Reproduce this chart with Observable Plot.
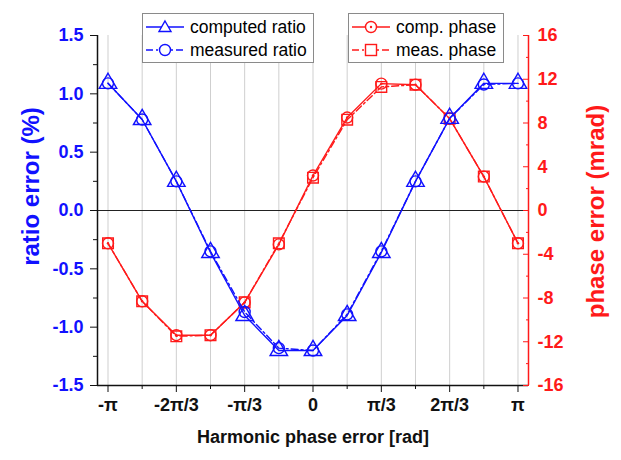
<!DOCTYPE html>
<html>
<head>
<meta charset="utf-8">
<script src="https://cdn.jsdelivr.net/npm/d3@7"></script>
<script src="https://cdn.jsdelivr.net/npm/@observablehq/plot@0.6"></script>
<style>
  body { margin: 0; background: #fff; font-family: "Liberation Sans", Arial, sans-serif; }
  #wrap { position: relative; width: 621px; height: 460px; }
  .legend { position: absolute; background: #fff; border: 1px solid #8a8a8a; box-sizing: border-box; }
  .row { position: absolute; left: 0; height: 22px; display: flex; align-items: center; font-size: 17.5px; color: #000; white-space: nowrap; }
  .row svg { margin-right: 5px; }
</style>
</head>
<body>
<div id="wrap"></div>
<script>
// Harmonic phase error, in units of π/6
const steps = [-6, -5, -4, -3, -2, -1, 0, 1, 2, 3, 4, 5, 6];
// ratio error (%)
const computedRatio = [1.09, 0.78, 0.25, -0.36, -0.90, -1.20, -1.20, -0.90, -0.36, 0.25, 0.79, 1.09, 1.09];
const measuredRatio = [1.09, 0.78, 0.25, -0.35, -0.87, -1.18, -1.20, -0.89, -0.35, 0.25, 0.79, 1.08, 1.09];
// phase error (mrad)
const compPhase = [-3.0, -8.3, -11.4, -11.4, -8.4, -3.1, 3.2, 8.5, 11.6, 11.5, 8.4, 3.1, -3.0];
const measPhase = [-3.0, -8.3, -11.5, -11.4, -8.4, -3.0, 3.0, 8.3, 11.3, 11.5, 8.4, 3.1, -3.0];
// ticks
const xTickSteps = [-6, -4, -2, 0, 2, 4, 6];
const xMinorSteps = [-5, -3, -1, 1, 3, 5];
const xTickLabels = ["-π", "-2π/3", "-π/3", "0", "π/3", "2π/3", "π"];
const ratioTicks = [-1.5, -1.0, -0.5, 0.0, 0.5, 1.0, 1.5];
const ratioMinor = [-1.25, -0.75, -0.25, 0.25, 0.75, 1.25];
const phaseTicks = [-16, -12, -8, -4, 0, 4, 8, 12, 16];
const phaseMinor = [-14, -10, -6, -2, 2, 6, 10, 14];

const BLUE = "#1111ff";
const RED = "#ff1a1a";
const rad = s => s * Math.PI / 6;
const k = 1.5 / 16; // phase (mrad) -> ratio-axis units
const pad = 0.161;
const xMin = -Math.PI - pad, xMax = Math.PI + pad;

const rows = steps.map((s, i) => ({
  x: rad(s),
  cr: computedRatio[i], mr: measuredRatio[i],
  cp: compPhase[i] * k, mp: measPhase[i] * k
}));

const font = "Liberation Sans, Arial, sans-serif";

const chart = Plot.plot({
  width: 621,
  height: 460,
  marginLeft: 97,
  marginRight: 93,
  marginTop: 35,
  marginBottom: 75,
  style: { fontFamily: font, background: "transparent", overflow: "visible" },
  x: { domain: [xMin, xMax] },
  y: { domain: [-1.5, 1.5] },
  marks: [
    Plot.gridX(steps.map(rad), { stroke: "#cfcfcf", strokeOpacity: 1, strokeWidth: 1 }),
    Plot.ruleY([0], { stroke: "#222", strokeWidth: 1.2 }),
    // phase series (red)
    Plot.line(rows, { x: "x", y: "mp", stroke: RED, strokeWidth: 1.4, strokeDasharray: "7,3,2,3" }),
    Plot.line(rows, { x: "x", y: "cp", stroke: RED, strokeWidth: 1.4 }),
    Plot.dot(rows, { x: "x", y: "mp", symbol: "square", r: 6, stroke: RED, strokeWidth: 1.4, fill: "none" }),
    Plot.dot(rows, { x: "x", y: "cp", symbol: "circle", r: 5.5, stroke: RED, strokeWidth: 1.4, fill: "none" }),
    Plot.dot(rows, { x: "x", y: "cp", r: 1.2, fill: RED, stroke: "none" }),
    // ratio series (blue)
    Plot.line(rows, { x: "x", y: "mr", stroke: BLUE, strokeWidth: 1.4, strokeDasharray: "7,3,2,3" }),
    Plot.line(rows, { x: "x", y: "cr", stroke: BLUE, strokeWidth: 1.4 }),
    Plot.dot(rows, { x: "x", y: "mr", symbol: "circle", r: 5.5, stroke: BLUE, strokeWidth: 1.4, fill: "none" }),
    Plot.dot(rows, { x: "x", y: "cr", symbol: "triangle", r: 6.5, stroke: BLUE, strokeWidth: 1.4, fill: "none" }),
    // axis lines
    Plot.ruleY([-1.5], { stroke: "#111", strokeWidth: 1.5 }),
    Plot.ruleX([xMin], { stroke: "#111", strokeWidth: 1.5 }),
    Plot.ruleX([xMax], { stroke: RED, strokeWidth: 1.5 }),
    // left axis
    Plot.axisY({ anchor: "left", ticks: ratioTicks, tickFormat: d => d.toFixed(1), tickSize: 7, tickPadding: 7,
      fill: BLUE, stroke: "#111", fontSize: 18, fontWeight: "bold", label: null }),
    Plot.axisY({ anchor: "left", ticks: ratioMinor, tickFormat: () => "", tickSize: 4, stroke: "#111", label: null }),
    // right axis (ticks point inward)
    Plot.axisY({ anchor: "right", ticks: phaseTicks.map(v => v * k), tickFormat: d => String(Math.round(d / k)),
      tickSize: -6, tickPadding: 15, fill: RED, stroke: RED, fontSize: 18, fontWeight: "bold", label: null }),
    Plot.axisY({ anchor: "right", ticks: phaseMinor.map(v => v * k), tickFormat: () => "", tickSize: -3, stroke: RED, label: null }),
    // bottom axis
    Plot.axisX({ ticks: xTickSteps.map(rad), tickFormat: (d, i) => xTickLabels[i], tickSize: 7, tickPadding: 6,
      fill: "#111", stroke: "#111", fontSize: 18, fontWeight: "bold", label: null }),
    Plot.axisX({ ticks: xMinorSteps.map(rad), tickFormat: () => "", tickSize: 4, stroke: "#111", label: null }),
    // titles
    Plot.text(["ratio error (%)"], { frameAnchor: "left", textAnchor: "middle", rotate: -90, dx: -66, dy: -24,
      fill: BLUE, fontSize: 24, fontWeight: "bold" }),
    Plot.text(["phase error (mrad)"], { frameAnchor: "right", textAnchor: "middle", rotate: -90, dx: 68, dy: 1,
      fill: RED, fontSize: 24, fontWeight: "bold" }),
    Plot.text(["Harmonic phase error [rad]"], { frameAnchor: "bottom", dy: 57, fill: "#111", fontSize: 18, fontWeight: "bold" })
  ]
});

const wrap = document.getElementById("wrap");
wrap.appendChild(chart);

// legends (HTML overlay)
function sample(color, dash, symbol) {
  const w = 40, h = 20, cy = h / 2, cx = w / 2;
  let m = "";
  if (symbol === "triangle") m = `<path d="M${cx},${cy - 6} L${cx + 6},${cy + 4.5} L${cx - 6},${cy + 4.5} Z" fill="#fff" stroke="${color}" stroke-width="1.4"/>`;
  if (symbol === "circle") m = `<circle cx="${cx}" cy="${cy}" r="5.5" fill="#fff" stroke="${color}" stroke-width="1.4"/>`;
  if (symbol === "circledot") m = `<circle cx="${cx}" cy="${cy}" r="5.5" fill="#fff" stroke="${color}" stroke-width="1.4"/><circle cx="${cx}" cy="${cy}" r="1.2" fill="${color}"/>`;
  if (symbol === "square") m = `<rect x="${cx - 5.5}" y="${cy - 5.5}" width="11" height="11" fill="#fff" stroke="${color}" stroke-width="1.4"/>`;
  return `<svg width="${w}" height="${h}"><line x1="1" y1="${cy}" x2="${w - 1}" y2="${cy}" stroke="${color}" stroke-width="1.4" ${dash ? `stroke-dasharray="${dash}"` : ""}/>${m}</svg>`;
}
const legends = [
  { left: 142, top: 13, width: 172, items: [["computed ratio", BLUE, null, "triangle"], ["measured ratio", BLUE, "7,3,2,3", "circle"]] },
  { left: 348, top: 13, width: 156, items: [["comp. phase", RED, null, "circledot"], ["meas. phase", RED, "7,3,2,3", "square"]] }
];
legends.forEach(L => {
  const box = document.createElement("div");
  box.className = "legend";
  Object.assign(box.style, { left: L.left + "px", top: L.top + "px", width: L.width + "px", height: "50px" });
  L.items.forEach((it, i) => {
    const r = document.createElement("div");
    r.className = "row";
    r.style.top = (2 + i * 23) + "px";
    r.style.left = "2px";
    r.innerHTML = sample(it[1], it[2], it[3]) + `<span>${it[0]}</span>`;
    box.appendChild(r);
  });
  wrap.appendChild(box);
});
</script>
</body>
</html>
